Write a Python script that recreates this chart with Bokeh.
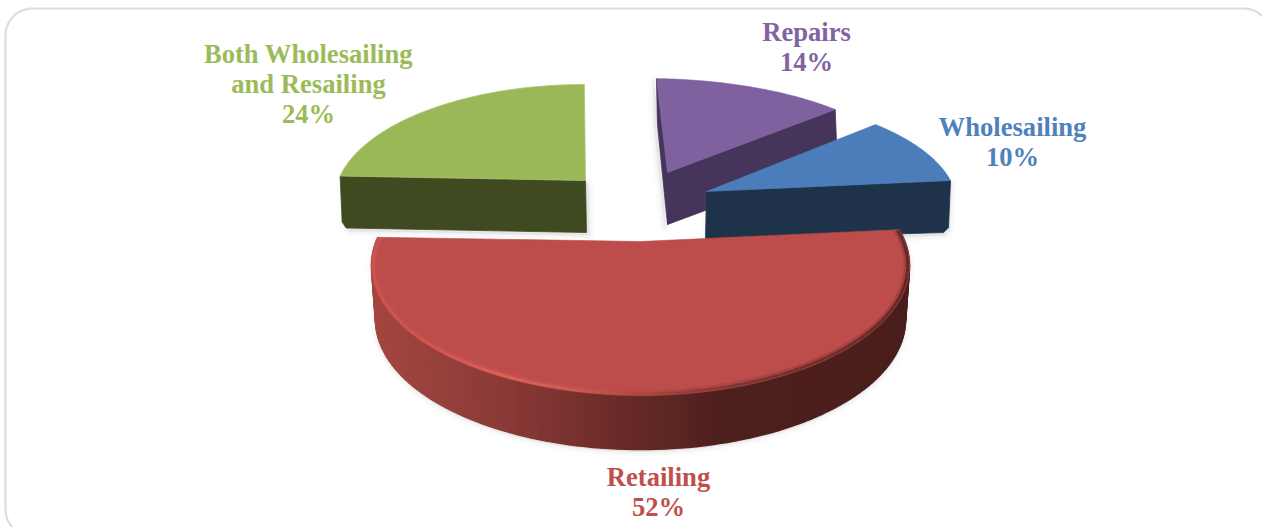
import numpy as np
from bokeh.core.properties import value
from bokeh.embed import file_html
from bokeh.models import Range1d
from bokeh.plotting import figure
from bokeh.resources import INLINE

# Chart data
categories = ["Wholesailing", "Retailing", "Both Wholesailing\nand Resailing", "Repairs"]
shares = [10, 52, 24, 14]
top_colors = ["#4A7DB9", "#BD4D4A", "#9BB858", "#7F61A0"]
side_colors = ["#1E3249", "#4A1E1C", "#3F4A20", "#45355A"]
label_colors = ["#4F81BD", "#C0504D", "#9BBB59", "#8064A2"]

# Layout of each exploded wedge, in page pixels
apex_x = [706, 640, 585, 667]
apex_y = [191, 241, 180, 172]
center_x = [700, 640, 584, 645]
center_y = [205, 265, 200, 178]
radius_x = [256.6, 269, 250, 262]
radius_y = [110.7, 130, 116, 100]
start_deg = [47, 16, 167.8, 87.6]      # ellipse angle where each wedge starts
sweep_scale = [0.944, 1.114, 0.90, 0.873]  # foreshortening of the pie's true angle
label_x = [1012, 658, 308, 806]
label_y = [126, 476, 53, 31]
LINE_GAP = 30
DEPTH = 52
W, H = 1262, 527

p = figure(width=W, height=H, output_backend="svg", toolbar_location=None,
           x_range=Range1d(0, W), y_range=Range1d(H, 0), min_border=0,
           x_axis_type=None, y_axis_type=None, outline_line_color=None,
           background_fill_color="white", border_fill_color="white")
p.grid.visible = False


def arc(i, n=80):
    t = np.radians(start_deg[i] - np.linspace(0, shares[i] * 3.6 * sweep_scale[i], n))
    return center_x[i] + radius_x[i] * np.cos(t), center_y[i] - radius_y[i] * np.sin(t)


def hex_mix(a, b, f):
    ca = np.array([int(a[k:k + 2], 16) for k in (1, 3, 5)], float)
    cb = np.array([int(b[k:k + 2], 16) for k in (1, 3, 5)], float)
    c = ca + (cb - ca) * f
    return "#%02x%02x%02x" % tuple(int(round(v)) for v in c)


def ramp(v, stops):
    pos = [s[0] for s in stops]
    k = int(np.clip(np.searchsorted(pos, v) - 1, 0, len(stops) - 2))
    f = float(np.clip((v - pos[k]) / (pos[k + 1] - pos[k]), 0, 1))
    return hex_mix(stops[k][1], stops[k + 1][1], f)


def soft_shadow(xs, ys, dx=2, dy=4):
    for w, a in ((12, 0.018), (8, 0.025), (5, 0.03), (2, 0.04)):
        p.patch(list(np.asarray(xs) + dx), list(np.asarray(ys) + dy), fill_color="#808080",
                fill_alpha=a, line_color="#808080", line_alpha=a, line_width=w,
                line_join="round")


# Rounded card behind the pie; its right and bottom sides run off the page
def card_path(x0, y0, x1, y1, r, n=16):
    q = np.linspace(0, np.pi / 2, n)
    xs = np.concatenate([x0 + r - r * np.cos(q), x1 - r + r * np.sin(q),
                         x1 - r + r * np.cos(q), x0 + r - r * np.sin(q)])
    ys = np.concatenate([y0 + r - r * np.sin(q), y0 + r - r * np.cos(q),
                         y1 - r + r * np.sin(q), y1 - r + r * np.cos(q)])
    return xs, ys


cx, cy = card_path(5, 8, 1270, 536, 27)
p.patch(list(cx), list(cy), fill_color="white", line_color="#DDDDDD", line_width=2.2)

# Repairs wedge: cut faces first, then the top surface
i = 3
ax, ay = arc(i)
left_face_x = [ax[0], apex_x[i], apex_x[i], ax[0] + 1]
left_face_y = [ay[0], apex_y[i], apex_y[i] + DEPTH, ay[0] + 46]
right_face_x = [apex_x[i], ax[-1], ax[-1] + 2, apex_x[i]]
right_face_y = [apex_y[i], ay[-1], ay[-1] + DEPTH, apex_y[i] + DEPTH]
soft_shadow(left_face_x, left_face_y, dx=-3, dy=3)
p.patch(left_face_x, left_face_y, fill_color=side_colors[i], line_color=side_colors[i], line_width=0.8)
p.patch(right_face_x, right_face_y, fill_color=side_colors[i], line_color=side_colors[i], line_width=0.8)
p.patch([apex_x[i], *ax], [apex_y[i], *ay], fill_color=top_colors[i], line_color=top_colors[i],
        line_width=0.6)

# Both Wholesailing and Resailing wedge; its arc runs from the left corner to the top
i = 2
ax, ay = arc(i)
face_x = [ax[0], apex_x[i], apex_x[i] + 1, ax[0] + 6, ax[0] + 2]
face_y = [ay[0], apex_y[i], apex_y[i] + DEPTH, ay[0] + DEPTH, ay[0] + 46]
soft_shadow(face_x, face_y, dx=3, dy=3)
p.patch(face_x, face_y, fill_color=side_colors[i], line_color=side_colors[i], line_width=0.8)
p.patch([apex_x[i], *ax], [apex_y[i], *ay], fill_color=top_colors[i], line_color="#A9C572",
        line_width=0.8)

# Wholesailing wedge
i = 0
ax, ay = arc(i)
face_x = [apex_x[i], ax[-1], ax[-1] - 2, ax[-1] - 7, apex_x[i] - 1]
face_y = [apex_y[i], ay[-1], ay[-1] + 47, ay[-1] + DEPTH, apex_y[i] + DEPTH - 4]
soft_shadow(face_x, face_y, dx=1, dy=3)
p.patch(face_x, face_y, fill_color=side_colors[i], line_color=side_colors[i], line_width=0.8)
p.patch([apex_x[i], *ax], [apex_y[i], *ay], fill_color=top_colors[i], line_color=top_colors[i],
        line_width=0.6)

# Retailing wedge: the rim is a band of small quads shaded from left to right
i = 1
ax, ay = arc(i, 121)
low_rx = radius_x[i] - 4
lower_t = np.radians(start_deg[i] - np.linspace(0, shares[i] * 3.6 * sweep_scale[i], 121))
bx = center_x[i] + low_rx * np.cos(lower_t)
by = center_y[i] + 54 - radius_y[i] * np.sin(lower_t)

soft_shadow(list(bx) + list(ax[::-1]), list(by) + list(ay[::-1]), dx=0, dy=2)

rim_stops = [(372, "#A4463F"), (450, "#95403C"), (540, "#823532"), (640, "#632926"),
             (720, "#4E201E"), (905, "#4A1E1C")]
rim_xs, rim_ys, rim_cols = [], [], []
for k in range(len(ax) - 1):
    rim_xs.append([ax[k], ax[k + 1], bx[k + 1], bx[k]])
    rim_ys.append([ay[k], ay[k + 1], by[k + 1], by[k]])
    rim_cols.append(ramp((bx[k] + bx[k + 1]) / 2, rim_stops))
p.patches(rim_xs, rim_ys, fill_color=rim_cols, line_color=rim_cols, line_width=1.6)

p.patch([apex_x[i], *ax], [apex_y[i], *ay], fill_color=top_colors[i], line_color=top_colors[i],
        line_width=0.6)

# Bevel along the front edge of the top surface, bright on the left, dark on the right
bevel_stops = [(370, "#CE544F"), (430, "#D25651"), (510, "#DE605B"), (580, "#CE5A55"),
               (650, "#A9453F"), (740, "#7E3432"), (840, "#6E2D2B"), (910, "#5E2826")]
for shrink, width, alpha in ((4.6, 2.2, 0.3), (1.8, 3.0, 1.0)):
    ex = center_x[i] + (radius_x[i] - shrink) * np.cos(lower_t)
    ey = center_y[i] - (radius_y[i] - shrink) * np.sin(lower_t)
    seg_x = [[ex[k], ex[k + 1]] for k in range(len(ex) - 1)]
    seg_y = [[ey[k], ey[k + 1]] for k in range(len(ex) - 1)]
    seg_c = [ramp(ex[k], bevel_stops) for k in range(len(ex) - 1)]
    p.multi_line(seg_x, seg_y, line_color=seg_c, line_width=width, line_alpha=alpha)

# Data labels: category name with its share on the last line
text_x, text_y, text_s, text_c = [], [], [], []
for i, name in enumerate(categories):
    lines = name.split("\n") + [f"{shares[i]}%"]
    for n, line in enumerate(lines):
        text_x.append(label_x[i])
        text_y.append(label_y[i] + n * LINE_GAP)
        text_s.append(line)
        text_c.append(label_colors[i])
p.text(text_x, text_y, text=text_s, text_color=text_c, text_align="center",
       text_baseline="middle", text_font=value("Liberation Serif"), text_font_style="bold",
       text_font_size="26.6px")

open("out.html", "w").write(file_html(p, INLINE))
